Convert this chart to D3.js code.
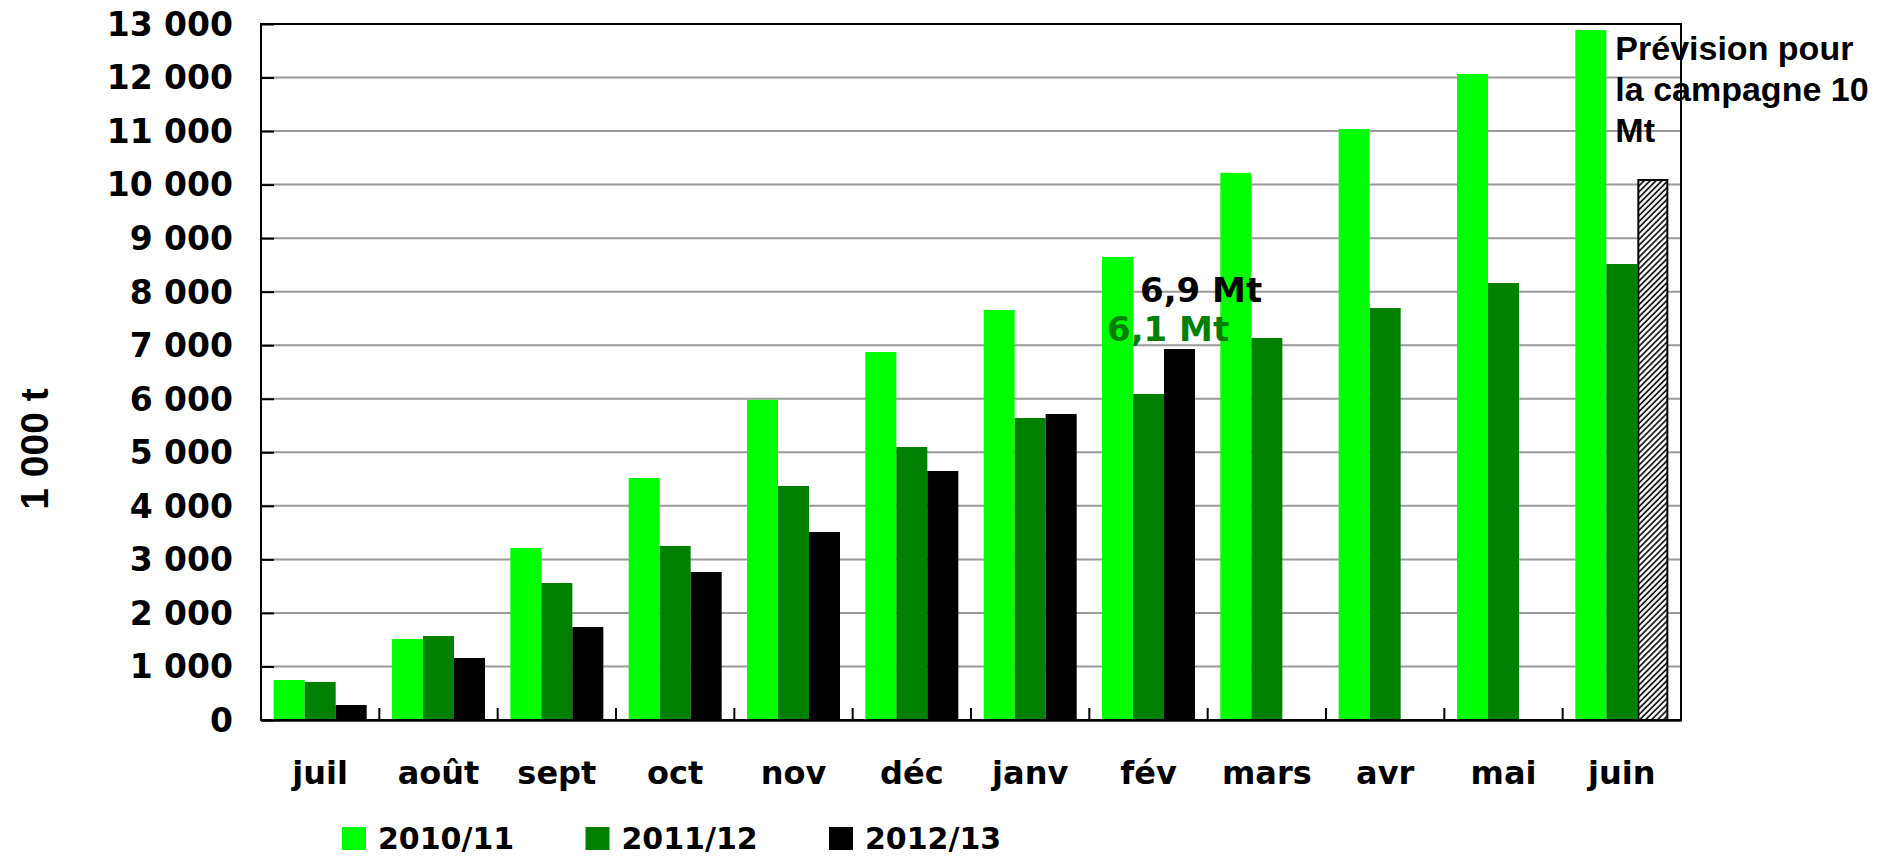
<!DOCTYPE html>
<html lang="fr">
<head>
<meta charset="utf-8">
<title>Collecte cumulée par campagne</title>
<script src="https://cdn.jsdelivr.net/npm/d3@7"></script>
<style>
  html, body { margin: 0; padding: 0; background: #ffffff; }
  svg { display: block; }
  .sans { font-family: "DejaVu Sans", sans-serif; font-weight: bold; }
  .arial { font-family: "Liberation Sans", Arial, sans-serif; font-weight: bold; }
</style>
</head>
<body>
<svg id="chart" width="1894" height="856"></svg>
<script>
// Mois de la campagne (juillet à juin)
const months = ["juil", "août", "sept", "oct", "nov", "déc", "janv", "fév", "mars", "avr", "mai", "juin"];

// Cumuls mensuels, en milliers de tonnes
const series2010 = [747, 1513, 3213, 4520, 5980, 6873, 7658, 8648, 10220, 11038, 12066, 12887];
const series2011 = [710, 1569, 2559, 3250, 4371, 5099, 5641, 6089, 7135, 7695, 8162, 8517];
const series2012 = [280, 1158, 1737, 2764, 3511, 4651, 5715, 6929, null, null, null, null];

// Prévision de fin de campagne 2012/13
const forecastMonth = "juin";
const forecastValue = 10086;

const seriesNames = ["2010/11", "2011/12", "2012/13"];
const seriesColors = ["#00ff00", "#008000", "#000000"];

const yTicks = [0, 1000, 2000, 3000, 4000, 5000, 6000, 7000, 8000, 9000, 10000, 11000, 12000, 13000];
const yTitle = "1 000 t";

const svg = d3.select("#chart");
const plotLeft = 261, plotRight = 1681, plotTop = 24, plotBottom = 720;

const x0 = d3.scaleBand().domain(months).range([plotLeft, plotRight])
  .paddingInner(0.214).paddingOuter(0.107);
const x1 = d3.scaleBand().domain(seriesNames).range([0, x0.bandwidth()]);
const y = d3.scaleLinear().domain([0, 13000]).range([plotBottom, plotTop]);

const fr = d3.formatLocale({ decimal: ",", thousands: " ", grouping: [3], currency: ["", " €"] });
const fmtThousands = fr.format(",.0f");
const fmtMt1 = fr.format(".1f");
const fmtMt0 = fr.format(".0f");

// Motif hachuré de la prévision
const defs = svg.append("defs");
defs.append("pattern")
  .attr("id", "hatch")
  .attr("patternUnits", "userSpaceOnUse")
  .attr("width", 4.2).attr("height", 4.2)
  .attr("patternTransform", "rotate(45)")
  .call(p => {
    p.append("rect").attr("width", 4.2).attr("height", 4.2).attr("fill", "#ffffff");
    p.append("line").attr("x1", 1).attr("y1", 0).attr("x2", 1).attr("y2", 4.2)
      .attr("stroke", "#000").attr("stroke-width", 1.6);
  });

// Quadrillage horizontal
svg.append("g")
  .selectAll("line")
  .data(yTicks.filter(t => t > 0))
  .join("line")
  .attr("x1", plotLeft).attr("x2", plotRight)
  .attr("y1", d => y(d)).attr("y2", d => y(d))
  .attr("stroke", "#9a9a9a").attr("stroke-width", 2);

// Barres
const table = months.map((m, i) => ({
  month: m,
  values: [series2010[i], series2011[i], series2012[i]]
}));

const groups = svg.append("g")
  .selectAll("g")
  .data(table)
  .join("g")
  .attr("transform", d => `translate(${x0(d.month)},0)`);

groups.selectAll("rect")
  .data(d => d.values.map((v, k) => ({ key: seriesNames[k], value: v, color: seriesColors[k] })).filter(e => e.value != null))
  .join("rect")
  .attr("x", e => x1(e.key))
  .attr("width", x1.bandwidth())
  .attr("y", e => y(e.value))
  .attr("height", e => y(0) - y(e.value))
  .attr("fill", e => e.color);

// Barre de prévision (emplacement 2012/13)
svg.append("rect")
  .attr("x", x0(forecastMonth) + x1("2012/13") + 1)
  .attr("width", x1.bandwidth() - 2)
  .attr("y", y(forecastValue))
  .attr("height", y(0) - y(forecastValue))
  .attr("fill", "url(#hatch)")
  .attr("stroke", "#000").attr("stroke-width", 2);

// Cadre du graphique
svg.append("rect")
  .attr("x", plotLeft).attr("y", plotTop)
  .attr("width", plotRight - plotLeft).attr("height", plotBottom - plotTop)
  .attr("fill", "none").attr("stroke", "#000").attr("stroke-width", 2);

// Axe vertical
const yAxis = svg.append("g")
  .attr("transform", `translate(${plotLeft},0)`)
  .call(d3.axisRight(y).tickValues(yTicks).tickSize(13).tickFormat(() => ""));
yAxis.select(".domain").remove();
yAxis.selectAll(".tick line").attr("stroke", "#000").attr("stroke-width", 2);

svg.append("g")
  .selectAll("text")
  .data(yTicks)
  .join("text")
  .attr("class", "sans")
  .attr("x", 233)
  .attr("y", d => y(d))
  .attr("dy", "0.36em")
  .attr("text-anchor", "end")
  .attr("font-size", 33)
  .attr("fill", "#000")
  .text(d => fmtThousands(d));

// Axe horizontal : graduations entre les mois
const xAxis = svg.append("g")
  .attr("transform", `translate(0,${plotBottom})`)
  .call(d3.axisTop(x0).tickSize(0).tickFormat(""));
xAxis.select(".domain").attr("stroke", "#000").attr("stroke-width", 2.5);
svg.append("g")
  .selectAll("line")
  .data(months.slice(1))
  .join("line")
  .attr("x1", d => x0(d) - x0.step() * x0.paddingInner() / 2)
  .attr("x2", d => x0(d) - x0.step() * x0.paddingInner() / 2)
  .attr("y1", plotBottom).attr("y2", plotBottom - 12)
  .attr("stroke", "#000").attr("stroke-width", 2);

svg.append("g")
  .selectAll("text")
  .data(months)
  .join("text")
  .attr("class", "sans")
  .attr("x", d => x0(d) + x0.bandwidth() / 2)
  .attr("y", 784)
  .attr("text-anchor", "middle")
  .attr("font-size", 32)
  .attr("fill", "#000")
  .text(d => d);

// Titre de l'axe vertical
svg.append("text")
  .attr("class", "arial")
  .attr("transform", "translate(48,449) rotate(-90)")
  .attr("text-anchor", "middle")
  .attr("font-size", 39)
  .attr("fill", "#000")
  .text(yTitle);

// Étiquettes de valeur pour février
const ifev = months.indexOf("fév");
svg.append("text")
  .attr("class", "sans")
  .attr("x", x0("fév") + x1("2012/13") - 24)
  .attr("y", y(series2012[ifev]) - 47)
  .attr("font-size", 34)
  .attr("fill", "#000")
  .text(fmtMt1(series2012[ifev] / 1000) + " Mt");

svg.append("text")
  .attr("class", "sans")
  .attr("x", x0("fév") + x1("2011/12") - 26)
  .attr("y", y(series2011[ifev]) - 53)
  .attr("font-size", 34)
  .attr("fill", "#008000")
  .text(fmtMt1(series2011[ifev] / 1000) + " Mt");

// Texte de la prévision
const forecastLines = ["Prévision pour", "la campagne " + fmtMt0(forecastValue / 1000), "Mt"];
svg.append("text")
  .attr("class", "arial")
  .attr("font-size", 34)
  .attr("fill", "#000")
  .selectAll("tspan")
  .data(forecastLines)
  .join("tspan")
  .attr("x", x0(forecastMonth) + x1("2011/12") + 9)
  .attr("y", (d, i) => 60 + i * 41)
  .text(d => d);

// Légende
const legend = svg.append("g")
  .selectAll("g")
  .data(seriesNames)
  .join("g")
  .attr("transform", (d, i) => `translate(${342 + i * 243.5},827)`);
legend.append("rect")
  .attr("width", 24).attr("height", 23)
  .attr("fill", (d, i) => seriesColors[i]);
legend.append("text")
  .attr("class", "sans")
  .attr("x", 36).attr("y", 22)
  .attr("font-size", 30)
  .attr("fill", "#000")
  .text(d => d);
</script>
</body>
</html>
